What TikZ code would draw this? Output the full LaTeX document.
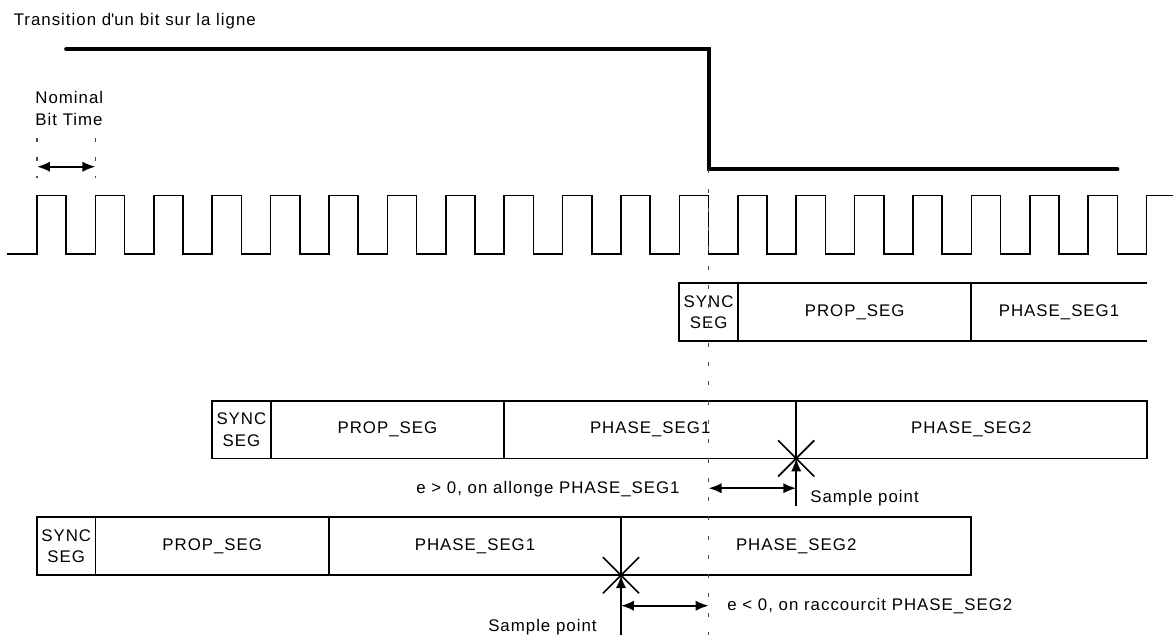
\documentclass[tikz,border=0pt]{standalone}
\usepackage{fontspec}
\setmainfont{Liberation Sans}[LetterSpace=6]
\usepackage{tikz}
\usetikzlibrary{positioning}
\usetikzlibrary{arrows.meta}
\tikzset{
  Seg/.style={draw, line width=0.9pt, rectangle, inner sep=0pt, outer sep=0pt,
    minimum height=0.99cm, align=center, anchor=west}, % für Segmente
  SegOffen/.style={Seg, draw=none}, % Segment ohne Rand
  Takt/.style={line width=0.8pt}, % für den Takt
  Bit/.style={line width=2pt, line cap=round}, % für den Pegel auf der Leitung
  Hilfslinie/.style={gray!60!black, line width=0.6pt, dash pattern=on 0.07cm off 0.26cm},
  Pfeil/.style={line width=0.9pt, <->}, % für Doppelpfeile
  SPunkt/.style={line width=0.8pt}, % für Abtastpunkte
  Text/.style={inner sep=0pt}
}

\begin{document}
\begin{tikzpicture}[
font=\fontsize{8.2}{10.5}\selectfont,
>={Latex[length=6.3pt,width=5pt]} % Voreinstellung für Pfeilspitzen
]
\useasboundingbox (-0.634,-10.873) rectangle (19.452,0);

%Pegel auf der Leitung
\node[Text, anchor=base west] (Titel) at (-0.405,-0.445) {Transition d\textquotesingle un bit sur la ligne};
\draw[Bit] (0.5,-0.84) -- (11.5,-0.84) -- (11.5,-2.9) -- (18.5,-2.9);

%Nominal Bit Time
\node[Text, anchor=west, align=left] (NBT) at (-0.034,-1.86) {Nominal\\Bit Time};
\coordinate (NBa) at (0,-2.855);
\coordinate (NBb) at (1,-2.855);
\draw[Hilfslinie] ([yshift=0.5cm]NBa) -- ([yshift=-0.2cm]NBa);
\draw[Hilfslinie] ([yshift=0.5cm]NBb) -- ([yshift=-0.2cm]NBb);
\draw[Pfeil] (NBa) -- (NBb);

%Takt
\draw[Takt] (-0.51,-4.35) foreach \k in {0,...,18}{
  -- (\k,-4.35) -- (\k,-3.35) -- (\k+0.5,-3.35) -- (\k+0.5,-4.35)}
  -- (19,-4.35) -- (19,-3.35) -- (19.452,-3.35);

%Segmente, Zeile 1
\node[Seg, minimum width=1cm] (R1sync) at (11,-5.345) {SYNC\\SEG};
\node[Seg, minimum width=4cm, right=0pt of R1sync] (R1prop) {PROP\_SEG};
\node[SegOffen, minimum width=3cm, right=0pt of R1prop] (R1ph1) {PHASE\_SEG1};
\draw[line width=0.9pt] (R1ph1.north west) -- (R1ph1.north east);
\draw[line width=0.9pt] (R1ph1.south west) -- (R1ph1.south east);

%Segmente, Zeile 2
\node[Seg, minimum width=1cm] (R2sync) at (3,-7.355) {SYNC\\SEG};
\node[Seg, minimum width=4cm, right=0pt of R2sync] (R2prop) {PROP\_SEG};
\node[Seg, minimum width=5cm, right=0pt of R2prop] (R2ph1) {PHASE\_SEG1};
\node[Seg, minimum width=6cm, right=0pt of R2ph1] (R2ph2) {PHASE\_SEG2};

%Segmente, Zeile 3
\node[Seg, minimum width=1cm] (R3sync) at (0,-9.355) {SYNC\\SEG};
\node[Seg, minimum width=4cm, right=0pt of R3sync] (R3prop) {PROP\_SEG};
\node[Seg, minimum width=5cm, right=0pt of R3prop] (R3ph1) {PHASE\_SEG1};
\node[Seg, minimum width=6cm, right=0pt of R3ph1] (R3ph2) {PHASE\_SEG2};

%Flanke
\coordinate (Flanke) at (11.5,-2.9);
\coordinate (FlankeUnten) at (11.5,-10.873);
\draw[Hilfslinie] (Flanke) -- (FlankeUnten);

%Abtastpunkt Zeile 2, e > 0
\coordinate (SP2) at (R2ph1.south east);
\coordinate[below=0.81cm of SP2] (SP2fuss);
\draw[SPunkt] ([shift={(-0.31,0.31)}]SP2) -- ([shift={(0.31,-0.31)}]SP2);
\draw[SPunkt] ([shift={(-0.31,-0.31)}]SP2) -- ([shift={(0.31,0.31)}]SP2);
\draw[SPunkt, ->] (SP2fuss) -- (SP2);
\coordinate (E2a) at (11.5,-8.36);
\coordinate (E2b) at (SP2 |- E2a);
\draw[Pfeil] (E2a) -- (E2b);
\node[Text, anchor=base east] (E2text) at (11.01,-8.447) {e > 0, on allonge PHASE\_SEG1};
\node[Text, anchor=base west] (SP2text) at (13.236,-8.608) {Sample point};

%Abtastpunkt Zeile 3, e < 0
\coordinate (SP3) at (R3ph1.south east);
\coordinate (SP3fuss) at (SP3 |- FlankeUnten);
\draw[SPunkt] ([shift={(-0.31,0.31)}]SP3) -- ([shift={(0.31,-0.31)}]SP3);
\draw[SPunkt] ([shift={(-0.31,-0.31)}]SP3) -- ([shift={(0.31,0.31)}]SP3);
\draw[SPunkt, ->] (SP3fuss) -- (SP3);
\coordinate (E3a) at (SP3 |- 0,-10.372);
\coordinate (E3b) at (11.5,-10.372);
\draw[Pfeil] (E3a) -- (E3b);
\node[Text, anchor=base west] (E3text) at (11.815,-10.462) {e < 0, on raccourcit PHASE\_SEG2};
\node[Text, anchor=base east] (SP3text) at (9.589,-10.805) {Sample point};

\end{tikzpicture}
\end{document}
